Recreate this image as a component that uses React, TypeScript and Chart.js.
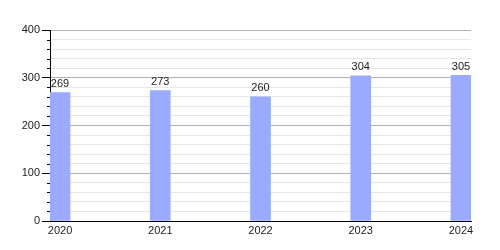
import React, { useEffect, useRef } from "react";
import { Chart, registerables } from "chart.js";

Chart.register(...registerables);

const years = [2020, 2021, 2022, 2023, 2024];
const values = [269, 273, 260, 304, 305];
const yTicksMajor = [0, 100, 200, 300, 400];

const FONT = "'Liberation Sans', Arial, sans-serif";

export default function App() {
  const ref = useRef<HTMLCanvasElement | null>(null);
  useEffect(() => {
    document.body.style.margin = "0";
    const ctx = ref.current!;
    const labelPlugin = {
      id: "extras",
      afterDatasetsDraw(chart: any) {
        const c = chart.ctx;
        const meta = chart.getDatasetMeta(0);
        c.save();
        c.font = `11px ${FONT}`;
        c.fillStyle = "#222";
        c.textAlign = "center";
        c.textBaseline = "bottom";
        meta.data.forEach((bar: any, i: number) => {
          c.fillText(String(values[i]), bar.x, bar.y - 3);
        });
        const y = chart.scales.y;
        c.strokeStyle = "#000";
        c.lineWidth = 1;
        for (let v = y.min; v <= y.max; v += 20) {
          if (yTicksMajor.includes(v)) continue;
          const py = Math.round(y.getPixelForValue(v)) + 0.5;
          c.beginPath();
          c.moveTo(y.right - 3, py);
          c.lineTo(y.right, py);
          c.stroke();
        }
        c.restore();
      },
    };
    const chart = new Chart(ctx, {
      type: "bar",
      data: {
        datasets: [
          {
            data: years.map((yr, i) => ({ x: yr, y: values[i] })),
            backgroundColor: "#99aaff",
            barThickness: 20,
          },
        ],
      },
      options: {
        animation: false,
        responsive: false,
        maintainAspectRatio: false,
        layout: { padding: { top: 30, right: 29, left: 0, bottom: 0 } },
        plugins: { legend: { display: false }, tooltip: { enabled: false } },
        scales: {
          x: {
            type: "linear",
            offset: false,
            min: 2019.9,
            max: 2024.1,
            afterBuildTicks: (axis: any) => {
              axis.ticks = years.map((v) => ({ value: v }));
            },
            afterFit: (axis: any) => {
              axis.height = 29;
            },
            grid: { display: false, drawTicks: false, offset: false },
            border: { display: true, color: "#000", width: 1 },
            ticks: {
              callback: (v: any) => String(v),
              color: "#222",
              font: { family: FONT, size: 11 },
              padding: 3,
              maxRotation: 0,
              autoSkip: false,
            },
          },
          y: {
            min: 0,
            max: 400,
            afterFit: (axis: any) => {
              axis.width = 50;
            },
            ticks: {
              stepSize: 20,
              autoSkip: false,
              callback: (v: any) => (v % 100 === 0 ? String(v) : ""),
              color: "#222",
              font: { family: FONT, size: 11 },
              padding: 2,
            },
            grid: {
              color: (c: any) => (c.tick && c.tick.value % 100 === 0 ? "#b0b0b0" : "#e6e6e6"),
              tickColor: (c: any) => (c.tick && c.tick.value % 100 === 0 ? "#000" : "rgba(0,0,0,0)"),
              tickLength: 8,
              drawTicks: true,
            },
            border: { display: true, color: "#000", width: 1 },
          },
        },
      },
      plugins: [labelPlugin],
    } as any);
    return () => chart.destroy();
  }, []);
  return (
    <div style={{ width: 500, height: 250 }}>
      <canvas ref={ref} width={500} height={250} style={{ width: 500, height: 250 }} />
    </div>
  );
}
